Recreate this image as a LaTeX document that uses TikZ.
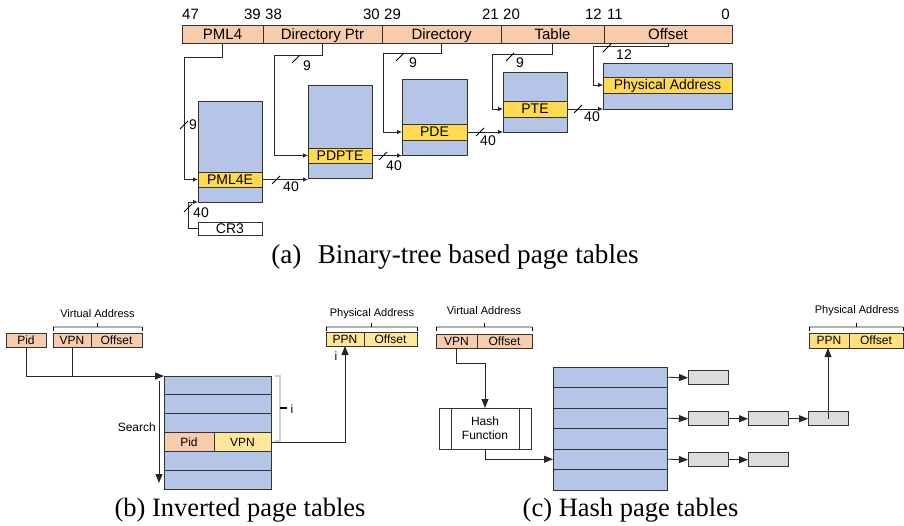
\documentclass[tikz,border=0pt]{standalone}
\usepackage{fontspec}
\setmainfont{Liberation Serif}
\setsansfont{Liberation Sans}
\usetikzlibrary{arrows.meta,calc}
\definecolor{salm}{HTML}{F8CBAD}
\definecolor{tblue}{HTML}{B4C5E8}
\definecolor{yrow}{HTML}{FFD94F}
\definecolor{ylight}{HTML}{FFE699}
\definecolor{ymid}{HTML}{FFE07A}
\definecolor{gbox}{HTML}{DCDCDC}
\newcommand\mycut[2]{\draw[cutm] (#1-4,#2+4) -- (#1+4,#2-4);}
\newcommand\mybrace[3]{%
  \draw[brcl] (#1,#3) -- (#2,#3);
  \draw[brce] (#1,#3+4) -- (#1,#3);
  \draw[brce] (#2,#3+4) -- (#2,#3);
  \draw[brce] ({(#1+#2)/2},#3) -- ({(#1+#2)/2},#3-4);}
\begin{document}
\begin{tikzpicture}[x=1pt,y=-1pt,
  box/.style={draw=black!80, line width=0.9pt, inner sep=0pt, outer sep=0pt,
     font=\sffamily\fontsize{14}{16}\selectfont, text height=10pt, text depth=0pt},
  fld/.style={box, fill=salm, minimum height=18pt, font=\sffamily\fontsize{15}{17}\selectfont,
     text height=10.7pt, text depth=0pt},
  tbl/.style={box, fill=tblue},
  yr/.style={box, fill=yrow},
  bitn/.style={inner sep=0pt, font=\sffamily\fontsize{15}{17}\selectfont},
  num/.style={inner sep=0pt, font=\sffamily\fontsize{14}{16}\selectfont},
  small/.style={inner sep=0pt, font=\sffamily\fontsize{12}{14}\selectfont},
  tiny/.style={inner sep=0pt, font=\sffamily\fontsize{11}{13}\selectfont},
  sbox/.style={box, font=\sffamily\fontsize{12}{14}\selectfont, text height=8.6pt, text depth=0pt},
  aconn/.style={draw=black!85, line width=0.8pt, -{Latex[length=5pt,width=4.5pt]}},
  bconn/.style={draw=black!85, line width=0.8pt, -{Triangle[length=9pt,width=7pt]}},
  pline/.style={draw=black!85, line width=0.8pt},
  cutm/.style={draw=black, line width=0.8pt},
  brcl/.style={draw=gray!60, line width=1.2pt},
  brce/.style={draw=black, line width=1pt},
  captxt/.style={inner sep=0pt, font=\fontsize{26.5}{30}\selectfont}
]
\useasboundingbox (0,0) rectangle (904,526);

% ================= (a) =================
\node[bitn, anchor=west] (b47) at (182,14) {47};
\node[bitn, anchor=east] (b39) at (261,14) {39};
\node[bitn, anchor=west] (b38) at (265,14) {38};
\node[bitn, anchor=east] (b30) at (380,14) {30};
\node[bitn, anchor=west] (b29) at (384,14) {29};
\node[bitn, anchor=east] (b21) at (499,14) {21};
\node[bitn, anchor=west] (b20) at (503,14) {20};
\node[bitn, anchor=east] (b12) at (602,14) {12};
\node[bitn, anchor=west] (b11) at (607,14) {11};
\node[bitn, anchor=east] (b0) at (730,14) {0};

\node[fld, minimum width=81pt] (f1) at (222.5,34) {PML4};
\node[fld, minimum width=119pt] (f2) at (322.5,34) {Directory Ptr};
\node[fld, minimum width=119pt] (f3) at (441.5,34) {Directory};
\node[fld, minimum width=103pt] (f4) at (552.5,34) {Table};
\node[fld, minimum width=128pt] (f5) at (668,34) {Offset};

\node[tbl, minimum width=64pt, minimum height=101pt] (t1) at (230,151.5) {};
\node[yr, minimum width=64pt, minimum height=15pt] (r1) at (230,179.5) {PML4E};
\node[tbl, minimum width=64pt, minimum height=93pt] (t2) at (340,131.5) {};
\node[yr, minimum width=64pt, minimum height=15pt] (r2) at (340,155.5) {PDPTE};
\node[tbl, minimum width=65pt, minimum height=76pt] (t3) at (434.5,117) {};
\node[yr, minimum width=65pt, minimum height=16pt] (r3) at (434.5,132) {PDE};
\node[tbl, minimum width=64pt, minimum height=60pt] (t4) at (535,102) {};
\node[yr, minimum width=64pt, minimum height=16pt] (r4) at (535,109) {PTE};
\node[tbl, minimum width=129pt, minimum height=46pt] (t5) at (667.5,86) {};
\node[yr, minimum width=129pt, minimum height=16pt] (r5) at (667.5,85) {Physical Address};
\node[box, fill=white, minimum width=64pt, minimum height=13pt] (cr3) at (230,228.5) {CR3};

\draw[aconn] (f1.south) |- (184,57) |- (r1.west);
\draw[aconn] (f2.south) |- (274,55) |- (r2.west);
\draw[aconn] (f3.south) |- (383,53) |- (r3.west);
\draw[aconn] (f4.south) |- (492,54) |- (r4.west);
\draw[aconn] (f5.south) |- (593,46) |- (r5.west);
\draw[aconn] (r1.east) -- (t2.west |- r1.east);
\draw[aconn] (r2.east) -- (t3.west |- r2.east);
\draw[aconn] (r3.east) -- (t4.west |- r3.east);
\draw[aconn] (r4.east) -- (t5.west |- r4.east);
\draw[aconn] (cr3.west) -- ++(-10,0) |- (t1.south west);

\mycut{184}{125} \node[num] (n9a) at (193,125) {9};
\mycut{296}{59} \node[num] (n9b) at (307,66) {9};
\mycut{400}{57} \node[num] (n9c) at (413,63) {9};
\mycut{510}{57} \node[num] (n9d) at (520,63) {9};
\mycut{607}{48} \node[num] (n12) at (624,55) {12};
\mycut{276}{180} \node[num] (n40a) at (291,187) {40};
\mycut{383}{156} \node[num] (n40b) at (394,166) {40};
\mycut{480}{132} \node[num] (n40c) at (488,141) {40};
\mycut{578}{109} \node[num] (n40d) at (592,117) {40};
\mycut{188}{208} \node[num] (n40e) at (201,213) {40};

\node[captxt, font=\fontsize{27.2}{31}\selectfont] (capa) at (455,257) {(a)\hspace{0.6em}Binary-tree based page tables};

% ================= (b) =================
\node[sbox, fill=salm, minimum width=40pt, minimum height=14pt] (pid) at (26,340) {Pid};
\node[sbox, fill=salm, minimum width=38pt, minimum height=14pt] (vpn) at (72,340) {VPN};
\node[sbox, fill=salm, minimum width=51pt, minimum height=14pt] (voff) at (116.5,340) {Offset};
\mybrace{53}{142}{327}
\node[tiny] (vab) at (97.5,314) {Virtual Address};

\foreach \k in {0,...,5}
  \node[tbl, minimum width=107pt, minimum height=18.83pt] (ir\k) at (217.5,{376+18.83*(\k+0.5)}) {};
\node[sbox, fill=salm, minimum width=50pt, minimum height=18.83pt] (ipid) at (189,441.9) {Pid};
\node[sbox, fill=ylight, minimum width=57pt, minimum height=18.83pt] (ivpn) at (242.5,441.9) {VPN};

\draw[bconn] (pid.south) |- (ir0.north west);
\draw[pline] (vpn.south) -- (vpn.south |- ir0.north west);
\coordinate (s1) at (159,381);
\coordinate (s2) at (159,483);
\draw[bconn] (s1) -- (s2);
\node[small, anchor=east] (search) at (156,427) {Search};

\draw[draw=gray!35, line width=1.6pt] (275,376) -- (280,376) -- (280,441) -- (275,441);
\draw[draw=black, line width=1.5pt] (280,408) -- (287,408);
\node[small] (ilab) at (292,409) {i};

\node[sbox, fill=ylight, minimum width=38pt, minimum height=14pt] (ppn) at (345,339) {PPN};
\node[sbox, fill=ylight, minimum width=53pt, minimum height=14pt] (poff) at (390.5,339) {Offset};
\mybrace{326}{417}{327}
\node[tiny] (pab) at (372,314) {Physical Address};
\node[small] (ilab2) at (336,356) {i};
\draw[bconn] (ivpn.east) -| (ppn.south);

\node[captxt] (capb) at (240,510) {(b) Inverted page tables};

% ================= (c) =================
\node[sbox, fill=salm, minimum width=41pt, minimum height=14pt] (cvpn) at (456.5,341) {VPN};
\node[sbox, fill=salm, minimum width=55pt, minimum height=14pt] (coff) at (504.5,341) {Offset};
\mybrace{436}{532}{327}
\node[tiny] (vac) at (484,311) {Virtual Address};

\node[box, fill=white, minimum width=92pt, minimum height=41pt] (hash) at (485,428.5) {};
\draw[draw=black!80, line width=0.9pt] (451,408) -- (451,449) (519,408) -- (519,449);
\node[small, align=center] (hashl) at (485,428.5) {Hash\\Function};
\draw[bconn] (cvpn.south) -- ++(0,15) -| (hash.north);

\foreach \k in {0,...,5}
  \node[tbl, minimum width=114pt, minimum height=20.5pt] (hr\k) at (610,{367+20.5*(\k+0.5)}) {};
\draw[bconn] (hash.south) |- (hr4.west);

\node[box, fill=gbox, minimum width=40pt, minimum height=14pt] (g11) at (708,377.75) {};
\node[box, fill=gbox, minimum width=40pt, minimum height=14pt] (g31) at (708,418.75) {};
\node[box, fill=gbox, minimum width=40pt, minimum height=14pt] (g32) at (768,418.75) {};
\node[box, fill=gbox, minimum width=40pt, minimum height=14pt] (g33) at (828,418.75) {};
\node[box, fill=gbox, minimum width=40pt, minimum height=14pt] (g51) at (708,459.75) {};
\node[box, fill=gbox, minimum width=40pt, minimum height=14pt] (g52) at (768,459.75) {};
\draw[bconn] (hr0.east) -- (g11.west);
\draw[bconn] (hr2.east) -- (g31.west);
\draw[bconn] (g31.east) -- (g32.west);
\draw[bconn] (g32.east) -- (g33.west);
\draw[bconn] (hr4.east) -- (g51.west);
\draw[bconn] (g51.east) -- (g52.west);

\node[sbox, fill=ymid, minimum width=40pt, minimum height=15pt] (cppn) at (829,340.5) {PPN};
\node[sbox, fill=ymid, minimum width=54pt, minimum height=15pt] (cpoff) at (876,340.5) {Offset};
\mybrace{809}{903}{327}
\node[tiny] (pac) at (857,311) {Physical Address};
\draw[bconn] (g33.center) -- (g33.center |- cppn.south);

\node[captxt] (capc) at (630.5,510) {(c) Hash page tables};
\end{tikzpicture}
\end{document}
